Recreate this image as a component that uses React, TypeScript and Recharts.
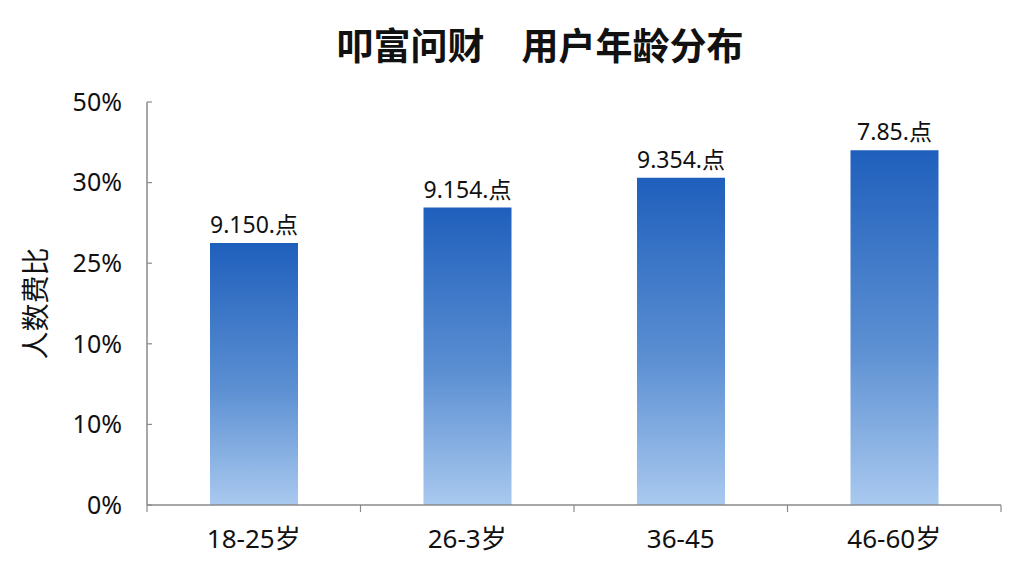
import React from "react";
import { BarChart, Bar, XAxis, YAxis, LabelList, Label } from "recharts";

/* age groups and share bars (values in tick steps, the axis labels are uneven) */
const AGE_GROUPS = ["18-25岁", "26-3岁", "36-45", "46-60岁"];
const SHARE_VALUES = [3.25, 3.69, 4.06, 4.4];
const BAR_LABELS = ["9.150.点", "9.154.点", "9.354.点", "7.85.点"];
const Y_TICKS = [0, 1, 2, 3, 4, 5];
const Y_TICK_LABELS = ["0%", "10%", "10%", "25%", "30%", "50%"];

const FONT = "'Noto Sans', 'Noto Sans CJK SC', sans-serif";
const PLOT_LEFT = 147;
const PLOT_RIGHT = 1001;
const BAND = (PLOT_RIGHT - PLOT_LEFT) / AGE_GROUPS.length;

function AgeTick(props: any) {
  const { x, y, payload, index } = props;
  const left = x - BAND / 2;
  const last = index === AGE_GROUPS.length - 1;
  return (
    <g>
      <line x1={left} x2={left} y1={y} y2={y + 7} stroke="#8a8a8a" strokeWidth={1.2} />
      {last && (
        <line x1={x + BAND / 2} x2={x + BAND / 2} y1={y} y2={y + 7} stroke="#8a8a8a" strokeWidth={1.2} />
      )}
      <text
        x={x}
        y={y + 33}
        textAnchor="middle"
        dominantBaseline="central"
        fontSize={26}
        fill="#111"
        fontFamily={FONT}
      >
        {payload.value}
      </text>
    </g>
  );
}

export default function App() {
  const data = AGE_GROUPS.map((g, i) => ({
    group: g,
    share: SHARE_VALUES[i],
    label: BAR_LABELS[i],
  }));

  return (
    <div
      style={{
        position: "fixed",
        left: 0,
        top: 0,
        width: 1024,
        height: 576,
        background: "#ffffff",
        fontFamily: FONT,
      }}
    >
      <div
        style={{
          position: "absolute",
          left: 0,
          width: 1080,
          top: 20,
          textAlign: "center",
          fontSize: 37,
          fontWeight: 700,
          color: "#111",
          lineHeight: "52px",
        }}
      >
        叩富问财{"\u3000"}用户年龄分布
      </div>
      <BarChart
        width={1024}
        height={576}
        data={data}
        margin={{ top: 102, right: 1024 - PLOT_RIGHT, bottom: 0, left: 0 }}
      >
        <defs>
          <linearGradient id="barFill" x1="0" y1="0" x2="0" y2="1">
            <stop offset="0%" stopColor="#1f5fbc" />
            <stop offset="55%" stopColor="#5b8fd2" />
            <stop offset="100%" stopColor="#a9c9ef" />
          </linearGradient>
        </defs>
        <XAxis
          dataKey="group"
          height={71}
          axisLine={{ stroke: "#8a8a8a", strokeWidth: 1.5 }}
          tickLine={false}
          tickSize={0}
          tickMargin={0}
          interval={0}
          tick={<AgeTick />}
        />
        <YAxis
          type="number"
          domain={[0, 5]}
          ticks={Y_TICKS}
          width={PLOT_LEFT}
          axisLine={{ stroke: "#8a8a8a", strokeWidth: 1.5 }}
          tickLine={{ stroke: "#8a8a8a", strokeWidth: 1.2 }}
          tickSize={-5}
          tickMargin={30}
          tickFormatter={(v: number) => Y_TICK_LABELS[v]}
          tick={{ fontSize: 25, fill: "#111", fontFamily: FONT }}
        >
          <Label
            value="人数费比"
            angle={-90}
            position="insideLeft"
            offset={36}
            style={{ fontSize: 28, fill: "#111", fontFamily: FONT, textAnchor: "middle" }}
          />
        </YAxis>
        <Bar
          dataKey="share"
          barSize={88}
          fill="url(#barFill)"
          isAnimationActive={false}
        >
          <LabelList
            dataKey="label"
            position="top"
            offset={10}
            style={{ fontSize: 23, fill: "#111", fontFamily: FONT }}
          />
        </Bar>
      </BarChart>
    </div>
  );
}
